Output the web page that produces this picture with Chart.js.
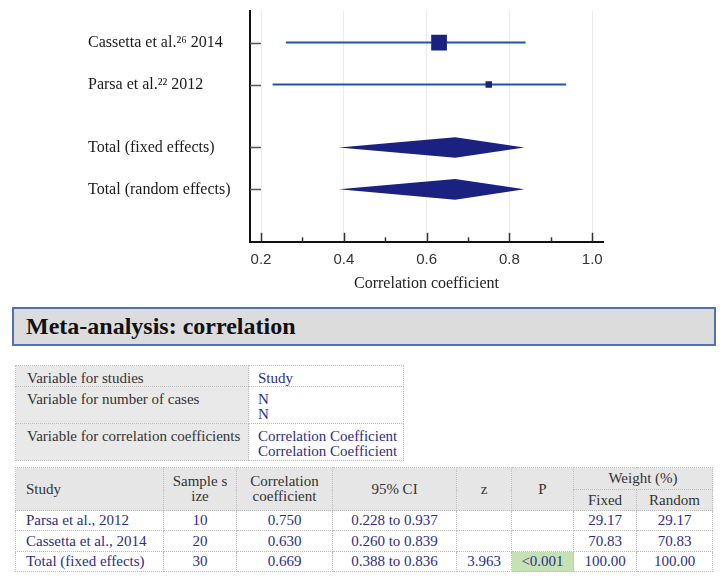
<!DOCTYPE html>
<html>
<head>
<meta charset="utf-8">
<title>Meta-analysis: correlation</title>
<script src="https://cdn.jsdelivr.net/npm/chart.js@4.4.1/dist/chart.umd.min.js"></script>
<style>
  body { margin: 0; background: #fff; font-family: "Liberation Serif", "Times New Roman", serif; }
  #forest { position: absolute; left: 0; top: 0; }
  .heading {
    position: absolute; left: 12px; top: 307px; width: 704px; height: 39px;
    box-sizing: border-box; background: #dcdcdc; border: 2px solid #5472aa;
    font-weight: bold; font-size: 24px; line-height: 35px; padding-left: 12px; color: #111;
  }
  table { position: absolute; border-collapse: collapse; table-layout: fixed; font-size: 15px; }
  td { border: 1px dotted #bdbdbd; padding: 0; }
  #vars { left: 15px; top: 365px; width: 388px; }
  #vars td { vertical-align: top; padding: 5px 0 0 11px; line-height: 15px; }
  #vars td.lab { background: #e9e9e9; color: #333; }
  #vars td.val { color: #2c2e8c; padding-left: 9px; }
  #results { left: 15px; top: 467px; width: 697px; }
  #results td { text-align: center; vertical-align: middle; line-height: 15px; color: #2c2e8c; }
  #results tr.head td { background: #e6e6e6; color: #333; }
  #results td.name { text-align: left; padding-left: 10px; }
  #results td.green { background: #c6e2b5; }
</style>
</head>
<body>
<canvas id="forest" width="722" height="310"></canvas>
<div class="heading">Meta-analysis: correlation</div>
<table id="vars">
  <colgroup><col style="width:233px"><col style="width:155px"></colgroup>
</table>
<table id="results">
  <colgroup>
    <col style="width:148px"><col style="width:73px"><col style="width:96px"><col style="width:124px">
    <col style="width:55px"><col style="width:62px"><col style="width:63px"><col style="width:76px">
  </colgroup>
  <tr class="head" style="height:22px">
    <td rowspan="2" class="name">Study</td><td rowspan="2">Sample s<br>ize</td>
    <td rowspan="2">Correlation<br>coefficient</td><td rowspan="2">95% CI</td>
    <td rowspan="2">z</td><td rowspan="2">P</td><td colspan="2">Weight (%)</td>
  </tr>
  <tr class="head" style="height:21px"><td>Fixed</td><td>Random</td></tr>
</table>
<script>
// forest plot rows, top to bottom
const studyNames = ["Cassetta et al.\u00b2\u2076 2014", "Parsa et al.\u00b2\u00b2 2012"];
const studyR = [0.630, 0.750];
const studyLow = [0.260, 0.228];
const studyHigh = [0.839, 0.937];
const studyWeight = [70.83, 29.17];
const studyRow = [0, 1];

const totalNames = ["Total (fixed effects)", "Total (random effects)"];
const totalR = [0.669, 0.669];
const totalLow = [0.388, 0.388];
const totalHigh = [0.836, 0.836];
const totalRow = [2.5, 3.5];

const xTicks = [0.2, 0.3, 0.4, 0.5, 0.6, 0.7, 0.8, 0.9, 1.0];
const xLabels = ["0.2", "", "0.4", "", "0.6", "", "0.8", "", "1.0"];

// input variables table
const varNames = ["Variable for studies", "Variable for number of cases", "Variable for correlation coefficients"];
const varValues = [["Study"], ["N", "N"], ["Correlation Coefficient", "Correlation Coefficient"]];

// results table
const tableStudy = ["Parsa et al., 2012", "Cassetta et al., 2014", "Total (fixed effects)"];
const sampleSize = [10, 20, 30];
const corrCoef = ["0.750", "0.630", "0.669"];
const ciLow = ["0.228", "0.260", "0.388"];
const ciHigh = ["0.937", "0.839", "0.836"];
const zValue = ["", "", "3.963"];
const pValue = ["", "", "<0.001"];
const weightFixed = ["29.17", "70.83", "100.00"];
const weightRandom = ["29.17", "70.83", "100.00"];

const navy = "#1b2180";
const ciBlue = "#2453a6";

const rowValues = studyRow.concat(totalRow);
const rowNames = studyNames.concat(totalNames);

let datasets = [];
datasets.push({
  type: "scatter",
  data: studyR.map((r, i) => ({ x: r, y: studyRow[i] })),
  pointStyle: "rect",
  pointRadius: studyWeight.map(w => w * 0.157),
  backgroundColor: navy,
  borderColor: navy,
  borderWidth: 0,
  order: 0,
});
studyR.forEach((r, i) => {
  datasets.push({
    type: "line",
    showLine: true,
    data: [{ x: studyLow[i], y: studyRow[i] }, { x: studyHigh[i], y: studyRow[i] }],
    borderColor: ciBlue,
    borderWidth: 2,
    pointRadius: 0,
    order: 1,
  });
});

// pooled estimates as diamonds + inward tick marks
const forestExtras = {
  id: "forestExtras",
  afterDatasetsDraw(chart) {
    const ctx = chart.ctx;
    const x = chart.scales.x;
    const y = chart.scales.y;
    const area = chart.chartArea;
    ctx.save();
    ctx.fillStyle = navy;
    totalR.forEach((r, i) => {
      const yc = y.getPixelForValue(totalRow[i]);
      const h = 10.3;
      ctx.beginPath();
      ctx.moveTo(x.getPixelForValue(totalLow[i]), yc);
      ctx.lineTo(x.getPixelForValue(r), yc - h);
      ctx.lineTo(x.getPixelForValue(totalHigh[i]), yc);
      ctx.lineTo(x.getPixelForValue(r), yc + h);
      ctx.closePath();
      ctx.fill();
    });
    ctx.strokeStyle = "#333";
    ctx.lineWidth = 1.5;
    x.ticks.forEach((t, i) => {
      const px = Math.round(x.getPixelForValue(t.value)) + 0.5;
      const len = xLabels[i] ? 9 : 4.5;
      ctx.beginPath();
      ctx.moveTo(px, area.bottom);
      ctx.lineTo(px, area.bottom - len);
      ctx.stroke();
    });
    ctx.strokeStyle = "#555";
    y.ticks.forEach(t => {
      const py = Math.round(y.getPixelForValue(t.value)) + 0.5;
      ctx.beginPath();
      ctx.moveTo(area.left, py);
      ctx.lineTo(area.left + 11, py);
      ctx.stroke();
    });
    ctx.restore();
  },
};

new Chart(document.getElementById("forest").getContext("2d"), {
  type: "scatter",
  data: { datasets: datasets },
  options: {
    responsive: false,
    animation: false,
    layout: { padding: { left: 88, right: 119, top: 9, bottom: 15.4 } },
    plugins: { legend: { display: false }, tooltip: { enabled: false } },
    scales: {
      x: {
        type: "linear",
        min: 0.1734,
        max: 1.026,
        afterBuildTicks: s => { s.ticks = xTicks.map(v => ({ value: v })); },
        afterFit: s => { s.paddingLeft = 0; s.paddingRight = 0; },
        grid: {
          drawTicks: false,
          color: c => (xLabels[c.index] ? "#ececec" : "rgba(0,0,0,0)"),
          lineWidth: 1,
        },
        border: { color: "#111", width: 2 },
        ticks: {
          autoSkip: false,
          maxRotation: 0,
          padding: 10.5,
          color: "#333",
          font: { family: "Liberation Sans", size: 15, lineHeight: 1 },
          callback: (v, i) => xLabels[i],
        },
        title: {
          display: true,
          text: "Correlation coefficient",
          color: "#222",
          font: { family: "Liberation Serif", size: 16, lineHeight: 0.8 },
          padding: { top: 0, bottom: 4 },
        },
      },
      y: {
        type: "linear",
        reverse: true,
        min: -0.75,
        max: 4.75,
        afterBuildTicks: s => { s.ticks = rowValues.map(v => ({ value: v })); },
        afterFit: s => { s.width = 162; s.paddingTop = 0; s.paddingBottom = 0; },
        grid: { display: false, drawTicks: false },
        border: { color: "#111", width: 2 },
        ticks: {
          autoSkip: false,
          crossAlign: "far",
          color: "#1a1a1a",
          font: { family: "Liberation Serif", size: 16 },
          callback: (v, i) => rowNames[i],
        },
      },
    },
  },
  plugins: [forestExtras],
});

// tables
const vars = document.getElementById("vars");
const varHeights = [21, 37, 37];
varNames.forEach((name, i) => {
  const tr = document.createElement("tr");
  tr.style.height = varHeights[i] + "px";
  const a = document.createElement("td");
  a.className = "lab";
  a.textContent = name;
  const b = document.createElement("td");
  b.className = "val";
  b.innerHTML = varValues[i].join("<br>");
  tr.appendChild(a);
  tr.appendChild(b);
  vars.appendChild(tr);
});

const results = document.getElementById("results");
const rowHeights = [20, 21, 20];
tableStudy.forEach((name, i) => {
  const tr = document.createElement("tr");
  tr.style.height = rowHeights[i] + "px";
  const cells = [name, sampleSize[i], corrCoef[i], ciLow[i] + " to " + ciHigh[i], zValue[i], pValue[i], weightFixed[i], weightRandom[i]];
  cells.forEach((c, j) => {
    const td = document.createElement("td");
    td.textContent = c;
    if (j === 0) td.className = "name";
    if (j === 5 && c !== "") td.className = "green";
    tr.appendChild(td);
  });
  results.appendChild(tr);
});
</script>
</body>
</html>
